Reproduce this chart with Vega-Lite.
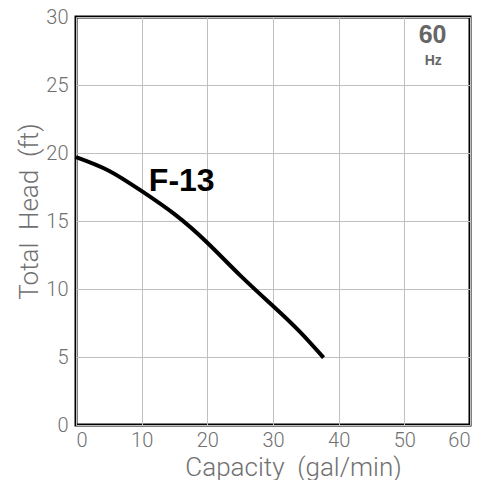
{
  "$schema": "https://vega.github.io/schema/vega-lite/v6.json",
  "autosize": "none",
  "width": 394,
  "height": 408,
  "padding": {"left": 76, "top": 17, "right": 22, "bottom": 55},
  "background": "white",
  "config": {
    "view": {"stroke": "black", "strokeWidth": 3},
    "font": "Liberation Sans",
    "axis": {
      "grid": true,
      "gridColor": "#c0c0c0",
      "gridWidth": 1,
      "ticks": false,
      "domain": false,
      "labelFont": "Roboto",
      "labelFontWeight": 300,
      "labelFontSize": 20,
      "labelColor": "#707070",
      "titleFont": "Roboto",
      "titleFontSize": 26,
      "titleFontWeight": 300,
      "titleColor": "#707070"
    }
  },
  "datasets": {
    "curve": [
      {"capacity": 0, "head": 19.7},
      {"capacity": 5, "head": 18.7},
      {"capacity": 10, "head": 17.2},
      {"capacity": 15, "head": 15.5},
      {"capacity": 20, "head": 13.4},
      {"capacity": 25, "head": 11.0},
      {"capacity": 30, "head": 8.75},
      {"capacity": 34, "head": 6.9},
      {"capacity": 37.7, "head": 4.95}
    ],
    "labels": [
      {"capacity": 16.1, "head": 17.2, "text": "F-13", "kind": "model"}
    ],
    "freq": [
      {"capacity": 54.3, "head": 28.09, "text": "60", "kind": "big"}
    ],
    "hz": [
      {"capacity": 54.4, "head": 26.47, "text": "Hz", "kind": "small"}
    ]
  },
  "layer": [
    {
      "data": {"name": "curve"},
      "mark": {"type": "line", "color": "black", "strokeWidth": 4, "interpolate": "natural"},
      "encoding": {
        "x": {
          "field": "capacity", "type": "quantitative",
          "scale": {"domain": [0, 60], "nice": false},
          "axis": {"values": [0, 10, 20, 30, 40, 50, 60], "title": "Capacity\u00a0\u00a0(gal/min)", "labelPadding": 5,
                   "titleX": 217, "titleY": 50, "titleBaseline": "alphabetic", "titleAnchor": "middle", "titleAlign": "center"}
        },
        "y": {
          "field": "head", "type": "quantitative",
          "scale": {"domain": [0, 30], "nice": false},
          "axis": {"values": [0, 5, 10, 15, 20, 25, 30], "title": "Total\u00a0\u00a0Head\u00a0\u00a0(ft)", "labelPadding": 8,
                   "titleX": -39, "titleY": 194, "titleAngle": -90, "titleBaseline": "alphabetic", "titleAlign": "center"}
        }
      }
    },
    {
      "data": {"name": "labels"},
      "mark": {"type": "text", "fontSize": 32, "fontWeight": "bold", "color": "black", "baseline": "alphabetic", "align": "center", "font": "Liberation Sans"},
      "encoding": {
        "x": {"field": "capacity", "type": "quantitative"},
        "y": {"field": "head", "type": "quantitative"},
        "text": {"field": "text"}
      }
    },
    {
      "data": {"name": "freq"},
      "mark": {"type": "text", "fontSize": 25, "fontWeight": "bold", "color": "#666666", "baseline": "alphabetic", "align": "center", "font": "Liberation Sans"},
      "encoding": {
        "x": {"field": "capacity", "type": "quantitative"},
        "y": {"field": "head", "type": "quantitative"},
        "text": {"field": "text"}
      }
    },
    {
      "data": {"name": "hz"},
      "mark": {"type": "text", "fontSize": 14, "fontWeight": "bold", "color": "#666666", "baseline": "alphabetic", "align": "center", "font": "Liberation Sans"},
      "encoding": {
        "x": {"field": "capacity", "type": "quantitative"},
        "y": {"field": "head", "type": "quantitative"},
        "text": {"field": "text"}
      }
    }
  ]
}
